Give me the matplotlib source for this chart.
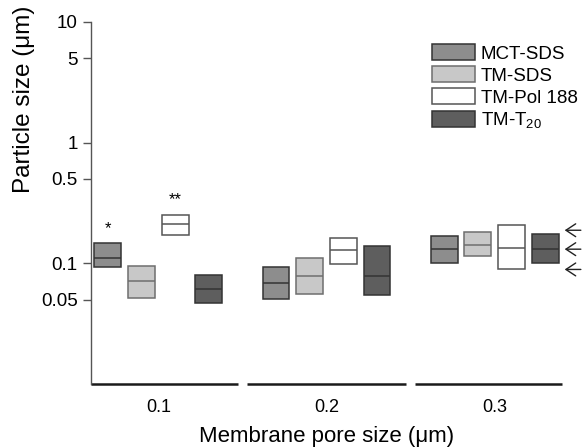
import numpy as np
import matplotlib.pyplot as plt
import matplotlib.transforms as mtransforms
from matplotlib.patches import Patch

plt.rcParams['font.family'] = ['Liberation Sans', 'DejaVu Sans']
plt.rcParams['mathtext.default'] = 'regular'

groups = ['0.1', '0.2', '0.3']
series = ['MCT-SDS', 'TM-SDS', 'TM-Pol 188', 'TM-T$_{20}$']
fills = ['#8d8d8d', '#c8c8c8', '#ffffff', '#5e5e5e']
edges = ['#333333', '#6e6e6e', '#555555', '#333333']

# lower, median, upper of each box (um)
low = [[0.093, 0.051, 0.101],
       [0.052, 0.056, 0.114],
       [0.171, 0.099, 0.089],
       [0.047, 0.055, 0.100]]
med = [[0.111, 0.069, 0.132],
       [0.072, 0.079, 0.143],
       [0.210, 0.128, 0.134],
       [0.0615, 0.079, 0.131]]
high = [[0.147, 0.094, 0.169],
        [0.095, 0.110, 0.181],
        [0.253, 0.161, 0.207],
        [0.080, 0.140, 0.174]]

arrow_levels = [0.188, 0.131, 0.089]
stars = [(0, 0, '*'), (2, 0, '**')]  # (series, group, mark)

yticks = [0.05, 0.1, 0.5, 1, 5, 10]
ytick_labels = ['0.05', '0.1', '0.5', '1', '5', '10']

fig = plt.figure(figsize=(5.82, 4.47), dpi=100)
ax = fig.add_axes([91/582, 1-384/447, (562-91)/582, (384-22)/447])

centers = np.arange(len(groups)) * 5.0
offsets = [-1.5, -0.5, 0.5, 1.5]
w = 0.8
for i in range(len(series)):
    x = centers + offsets[i]
    lo = np.array(low[i]); hi = np.array(high[i])
    ax.bar(x, hi - lo, bottom=lo, width=w, color=fills[i], edgecolor=edges[i], linewidth=1.1, zorder=2)
    ax.hlines(med[i], x - w/2, x + w/2, color=edges[i], linewidth=1.1, zorder=3)

for s, g, mark in stars:
    x = centers[g] + offsets[s]
    ax.text(x, high[s][g] * 1.33, mark, ha='center', va='center', fontsize=12)

ax.set_yscale('log')
ax.set_ylim(0.01, 10)
ax.set_xlim(-2.0, 12.0)
ax.set_yticks(yticks)
ax.set_yticklabels(ytick_labels, fontsize=13.5)
ax.yaxis.set_minor_locator(plt.NullLocator())
ax.tick_params(axis='y', direction='out', length=6, width=1, color='#555555', pad=3.5)
ax.set_xticks(centers)
ax.set_xticklabels(groups, fontsize=13)
ax.tick_params(axis='x', length=0, pad=11)

for side in ['top', 'right', 'bottom']:
    ax.spines[side].set_visible(False)
ax.spines['left'].set_color('#555555')
ax.spines['left'].set_linewidth(1)

# broken x axis
trans = mtransforms.blended_transform_factory(ax.transData, ax.transAxes)
segs = [(-2.0, 2.36), (2.64, 7.37), (7.64, 12.0)]
for a, b in segs:
    ax.plot([a, b], [0, 0], color='#1a1a1a', linewidth=1.8, transform=trans, clip_on=False, solid_capstyle='butt')

# arrows on right
for yv in arrow_levels:
    ax.annotate('', xy=(12.08, yv), xytext=(12.56, yv),
                arrowprops=dict(arrowstyle='->, head_length=0.5, head_width=0.33', color='#222222',
                                lw=1.0, mutation_scale=14, shrinkA=0, shrinkB=0),
                annotation_clip=False)

ax.set_ylabel('Particle size (\u03bcm)', fontsize=17.5)
ax.yaxis.set_label_coords(-0.118, 0.787)
ax.set_xlabel('Membrane pore size (\u03bcm)', fontsize=16, labelpad=7)

handles = [Patch(facecolor=fills[i], edgecolor=edges[i], linewidth=1.1) for i in range(len(series))]
ax.legend(handles, series, loc='upper left', bbox_to_anchor=(423/582, 1-35/447),
          bbox_transform=fig.transFigure, frameon=False, fontsize=13.5, borderpad=0,
          handlelength=2.25, handleheight=0.9, labelspacing=0.2, handletextpad=0.32)

fig.savefig('out.png', dpi=100)
